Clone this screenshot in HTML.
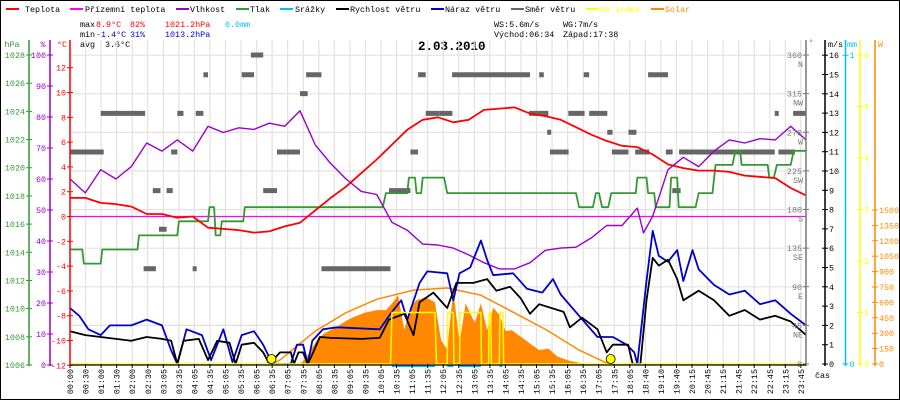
<!DOCTYPE html>
<html><head><meta charset="utf-8"><style>
html,body{margin:0;padding:0;background:#fff}
svg{display:block;font-family:"Liberation Mono",monospace}
</style></head><body>
<svg id="c" width="900" height="400" viewBox="0 0 900 400" xmlns="http://www.w3.org/2000/svg">
<rect x="0.5" y="0.5" width="899" height="399" fill="#fff" stroke="#000"/>
<g id="legend" font-size="8.4">
 <g><rect x="6" y="8" width="13" height="2" fill="#f00"/><text x="25" y="12">Teplota</text></g>
 <g><rect x="70" y="8" width="13" height="2" fill="#f0f"/><text x="85" y="12">Přízemní teplota</text></g>
 <g><rect x="176" y="8" width="13" height="2" fill="#90c"/><text x="190" y="12">Vlhkost</text></g>
 <g><rect x="236" y="8" width="13" height="2" fill="#393"/><text x="250" y="12">Tlak</text></g>
 <g><rect x="280" y="8" width="13" height="2" fill="#0bf"/><text x="295" y="12">Srážky</text></g>
 <g><rect x="336" y="8" width="13" height="2" fill="#000"/><text x="350" y="12">Rychlost větru</text></g>
 <g><rect x="431" y="8" width="13" height="2" fill="#00c"/><text x="445" y="12">Náraz větru</text></g>
 <g><rect x="511" y="8" width="13" height="2" fill="#666"/><text x="525" y="12">Směr větru</text></g>
 <g><rect x="586" y="8" width="13" height="2" fill="#ff0"/><text x="600" y="12" fill="#ff0">UV index</text></g>
 <g><rect x="651" y="8" width="13" height="2" fill="#f80"/><text x="665" y="12" fill="#f80">Solar</text></g>
</g>
<g font-size="8.4">
 <text x="80" y="27">max</text><text x="96" y="27" fill="#f00">8.9°C</text><text x="130" y="27" fill="#f00">82%</text><text x="165" y="27" fill="#f00">1021.2hPa</text><text x="225" y="27" fill="#0bf">0.0mm</text>
 <text x="80" y="37">min</text><text x="96" y="37" fill="#00c">-1.4°C</text><text x="130" y="37" fill="#00c">31%</text><text x="165" y="37" fill="#00c">1013.2hPa</text>
 <text x="80" y="47">avg</text><text x="105" y="47">3.6°C</text>
 <text x="494" y="27">WS:5.6m/s</text><text x="563" y="27">WG:7m/s</text>
 <text x="494" y="37">Východ:06:34</text><text x="563" y="37">Západ:17:38</text>
</g>
<text x="418" y="50" font-size="12.5" font-weight="bold">2.03.2010</text>
<g id="grid"></g>
<g id="marks"></g>
<g id="axes" font-size="8.4"></g>
</svg>
<script>
const NS='http://www.w3.org/2000/svg';
// ---------- data ----------
const xLabels=['00:00','00:30','01:00','01:30','02:00','02:30','03:05','03:35','04:05','04:35','05:05','05:35','06:05','06:35','07:05','07:35','08:05','08:35','09:05','09:35','10:05','10:35','11:05','11:35','12:05','12:35','13:05','13:35','14:05','14:35','15:05','15:35','16:05','16:35','17:05','17:35','18:05','18:40','19:10','19:40','20:15','20:45','21:15','21:45','22:15','22:45','23:15','23:45'];
const tempHours=[0,0.5,1,1.5,2,2.5,3,3.5,4,4.5,5,5.5,6,6.5,7,7.5,8,8.5,9,9.5,10,10.5,11,11.5,12,12.5,13,13.5,14,14.5,15,15.5,16,16.5,17,17.5,18,18.5,19,19.5,20,20.5,21,21.5,22,22.5,23,23.5,24];
const tempVals=[1.5,1.5,1.1,1.0,0.8,0.2,0.2,-0.1,0,-0.9,-1.0,-1.1,-1.3,-1.2,-0.8,-0.5,0.5,1.5,2.4,3.5,4.6,5.8,7.0,7.8,8.0,7.6,7.8,8.6,8.7,8.8,8.3,8.1,7.8,7.2,6.6,6.1,5.7,5.6,5.0,4.2,3.9,3.7,3.7,3.6,3.3,3.2,3.1,2.3,1.7];
const chillHours=[0,24];
const chillVals=[0,0];
const humHours=[0,0.5,1,1.5,2,2.5,3,3.5,4,4.5,5,5.5,6,6.5,7,7.5,8,8.5,9,9.5,10,10.5,11,11.5,12,12.5,13,13.5,14,14.5,15,15.5,16,16.5,17,17.5,18,18.5,18.7,19,19.5,20,20.5,21,21.5,22,22.5,23,23.5,24];
const humVals=[60,55.5,63,60,64,71.6,69,72.6,69,77,75,76.5,76,78,77,82,71,65,60,56,55,46,43.5,39,38.7,37.7,35.5,33,31,31,33,37,37.7,38,41,45,45,50.6,42.6,48,63,67,64,69,72.6,71.6,73,72.6,77,72.6];
const presHours=[0,0.4,0.45,1.0,1.05,2.2,2.25,3.5,3.55,4.5,4.55,4.7,4.75,4.9,4.95,5.65,5.7,10.2,10.3,11.0,11.05,11.25,11.3,11.45,11.5,12.2,12.3,16.5,16.6,17.05,17.15,17.25,17.35,17.55,17.65,18.45,18.5,18.8,18.85,19.05,19.1,19.55,19.6,19.8,19.85,20.4,20.5,20.95,21.05,21.6,21.7,21.85,21.9,22.75,22.8,22.95,23.05,23.5,23.6,24];
const presVals=[1014.2,1014.2,1013.2,1013.2,1014.2,1014.2,1015.2,1015.2,1016.2,1016.2,1017.2,1017.2,1015.2,1015.2,1016.2,1016.2,1017.2,1017.2,1018.2,1018.2,1019.3,1019.3,1018.2,1018.2,1019.3,1019.3,1018.2,1018.2,1017.2,1017.2,1018.2,1018.2,1017.2,1017.2,1018.2,1018.2,1019.3,1019.3,1018.2,1018.2,1017.2,1017.2,1019.3,1019.3,1017.2,1017.2,1018.2,1018.2,1020.2,1020.2,1021.2,1021.2,1020.2,1020.2,1019.3,1019.3,1020.2,1020.2,1021.2,1021.2];
const windHours=[0,0.5,1,1.5,2,2.5,3,3.3,3.5,3.7,4.2,4.5,4.8,5.2,5.4,5.6,6.0,6.3,6.5,6.85,7.2,7.3,7.45,7.6,7.75,7.9,8.15,8.5,9.5,10.1,10.4,10.9,11.2,11.4,11.85,12.3,12.6,13.15,13.6,13.9,14.35,14.7,15.0,15.3,16.1,16.3,16.7,17.2,17.5,17.7,18.2,18.35,18.6,18.8,19.0,19.2,19.5,19.8,20,20.5,21,21.5,22,22.5,23,23.5,24];
const windVals=[1.7,1.5,1.4,1.3,1.2,1.4,1.3,1.2,0,1.2,1.3,0.2,1.2,1.1,0,1.0,1.1,0.6,0,0.6,0.6,0,0.6,0.6,0,0.5,1.4,1.35,1.3,1.35,2.3,2.6,1.5,3.2,3.7,2.9,4.2,4.2,4.4,3.8,4.0,3.4,2.6,3.1,2.7,1.9,2.4,1.8,0.6,1.0,1.0,0,0,3.3,5.5,5.1,5.4,4.4,3.3,3.8,3.3,2.5,2.8,2.3,2.5,2.2,1.5];
const gustHours=[0,0.3,0.6,1,1.3,2,2.5,3,3.3,3.5,3.8,4.3,4.6,5,5.3,5.6,6,6.3,6.6,7.2,7.4,7.6,7.75,7.9,8.25,8.7,10.1,10.45,10.8,11.0,11.4,11.65,12.3,12.5,12.7,13.05,13.4,13.6,13.8,14.45,14.9,15.4,15.75,16.0,16.6,17.2,17.7,18.15,18.4,18.5,18.8,19.0,19.2,19.5,19.8,20,20.3,20.5,21,21.5,22,22.5,23,23.5,24];
const gustVals=[2.9,2.5,1.8,1.5,2.0,2.0,2.3,2.0,0.7,0,1.8,1.5,0.2,1.8,0.1,1.5,1.7,1.0,0,0,1.0,1.0,0,1.2,1.8,1.9,1.8,2.6,3.3,2.3,4.2,4.8,4.7,3.3,4.7,5.0,6.4,5.4,4.6,4.7,3.9,3.7,4.4,3.6,2.5,1.4,1.4,1.0,0.6,0,4.3,6.9,5.6,5.3,5.9,4.3,5.9,4.9,4.1,3.6,3.8,3.1,3.3,2.6,2.0];
const solarHours=[7.5,7.7,7.9,8.1,8.3,8.7,9.0,9.2,9.6,10.0,10.3,10.5,10.7,10.9,11.1,11.3,11.6,11.9,12.1,12.3,12.5,12.7,12.9,13.2,13.4,13.6,13.8,14.0,14.2,14.4,14.7,15.0,15.3,15.6,15.9,16.3,16.8];
const solarVals=[0,60,165,250,300,360,420,450,500,525,525,590,670,330,555,620,650,600,230,143,720,200,590,400,590,330,550,480,320,330,265,200,135,150,70,30,0];
const solarMaxHours=[6.6,6.85,7.5,8.0,9.0,10.0,11.2,12.3,13.4,14.45,15.55,16.6,17.5,17.65];
const solarMaxVals=[0,40,200,320,500,630,720,740,670,505,330,135,10,0];
const uvHours=[0,10.45,10.5,11.9,11.95,12.3,12.32,12.5,12.52,12.7,12.72,13.4,13.42,13.65,13.67,13.72,13.74,14.0,14.02,14.12,14.14,24];
const uvVals=[0,0,1,1,0,0,1,1,0,0,1,1,0,0,1,1,0,0,1,1,0,0];
const dirStart=[0,1.0,2.4,2.7,2.9,3.15,3.3,3.5,4.0,4.1,4.35,5.6,5.9,6.3,6.75,7.5,7.7,8.2,10.4,11.1,11.35,11.6,12.06,12.46,14.97,15.3,15.56,15.65,16.25,16.75,16.93,17.52,17.67,18.21,18.43,18.85,19.43,19.64,19.86,22.98,23.1,23.58];
const dirEnd=[1.1,2.45,2.8,2.95,3.15,3.35,3.5,3.7,4.1,4.35,4.5,6.0,6.3,6.75,7.5,7.75,8.2,10.45,11.1,11.35,11.6,12.06,12.47,15.0,15.6,15.45,15.67,16.26,16.78,16.93,17.52,17.69,18.21,18.47,18.89,19.5,19.65,19.91,22.98,23.1,23.64,24.0];
const dirVals=[247,292,111,202,157,202,247,292,111,292,337,337,360,202,247,315,337,111,202,247,337,292,292,337,292,337,270,247,292,337,292,270,247,270,247,337,247,202,247,292,247,292];
const sunEvents=[6.57,17.63];
const rainStart=[10.5,12.3,12.7,14.0];
const rainEnd=[11.9,12.5,13.4,14.1];

// ---------- scales ----------
const X=h=>70+h*(736/24);
const yT=t=>216.5-t*12.4;
const yH=p=>365-p*3.1;
const yP=p=>365-(p-1006)*14.09;
const yW=v=>364-v*19.3;
const yD=d=>364-d*0.8583;
const yUV=u=>364-u*51.5;
const yS=w=>364-w*0.10267;

function el(tag,attrs,parent){const e=document.createElementNS(NS,tag);for(const k in attrs)e.setAttribute(k,attrs[k]);parent.appendChild(e);return e;}
const grid=document.getElementById('grid'),marks=document.getElementById('marks'),axes=document.getElementById('axes');

for(let i=0;i<xLabels.length;i++){const x=70+i*15.55;
 const g=el('line',{x1:x,x2:x,y1:40,y2:364,stroke:'#e6e0e0','stroke-width':1.2},grid);
 
 
 const t=el('text',{x:0,y:0,'font-size':8.4,'text-anchor':'end',transform:`translate(${x+3},369) rotate(-90)`},axes);
 t.textContent=xLabels[i];
 
 
 const tk=el('line',{x1:x,x2:x,y1:364,y2:368,stroke:'#000'},axes);
 
 
}
for(let v=2;v<=16;v+=2){const y=yW(v);
 const g=el('line',{x1:70,x2:806,y1:y,y2:y,stroke:'#e6e0e0','stroke-width':1.2},grid);
 
 
}

function path(hs,vs,fx,fy){return hs.map((h,i)=>(i?'L':'M')+fx(h).toFixed(1)+' '+fy(vs[i]).toFixed(1)).join(' ');}

const sp=el('path',{d:path(solarHours,solarVals,X,yS)+' Z',fill:'#f80',stroke:'none'},marks);


const sm=el('path',{d:path(solarMaxHours,solarMaxVals,X,yS),fill:'none',stroke:'#f80','stroke-width':1.5},marks);


for(let i=0;i<dirVals.length;i++){
 const r=el('rect',{x:X(dirStart[i]),y:yD(dirVals[i])-2.5,width:Math.max(4,X(dirEnd[i])-X(dirStart[i])),height:5,fill:'#666'},marks);
 
 
}
const lines=[
 [chillHours,chillVals,yT,'#f0f',1.2,'wind-chill-line'],
 [presHours,presVals,yP,'#393',1.8,'pressure-line'],
 [humHours,humVals,yH,'#90c',1.4,'humidity-line'],
 [tempHours,tempVals,yT,'#f00',1.8,'temperature-line'],
 [gustHours,gustVals,yW,'#00c',1.8,'wind-gust-line'],
 [windHours,windVals,yW,'#000',1.8,'wind-speed-line'],
 [uvHours,uvVals,yUV,'#ff0',1.5,'uv-index-line']];
for(const L of lines){
 const p=el('path',{d:path(L[0],L[1],X,L[2]),fill:'none',stroke:L[3],'stroke-width':L[4],'stroke-linejoin':'round'},marks);
 
 
}
for(let i=0;i<rainStart.length;i++){
 const r=el('line',{x1:X(rainStart[i]),x2:X(rainEnd[i]),y1:366,y2:366,stroke:'#0bf','stroke-width':2},marks);
 
 
}
for(const s of sunEvents){
 const c=el('circle',{cx:X(s),cy:359,r:4.5,fill:'#ff0',stroke:'#000','stroke-width':0.8},marks);
 
 
}

function vAxis(x,color,name,y1,y2){const a=el('line',{x1:x,x2:x,y1:y1,y2:y2,stroke:color,'stroke-width':1.5},axes);
 
 }
function tick(x,y,color,label,side,dx){
 const t=el('line',{x1:x-3,x2:x+3,y1:y,y2:y,stroke:color},axes);
 
 
 const tx=el('text',{x:side<0?x-(dx||4):x+(dx||4),y:y+3,fill:color,'text-anchor':side<0?'end':'start'},axes);
 tx.textContent=label;
 
 
}
function unit(x,y,color,txt,anchor){const t=el('text',{x:x,y:y,fill:color,'text-anchor':anchor||'middle'},axes);t.textContent=txt;
 
 }
vAxis(29,'#393','pressure-axis',40,366);unit(12,47,'#393','hPa');
for(let p=1006;p<=1028;p+=2)tick(29,yP(p),'#393',String(p),-1);
vAxis(50,'#90c','humidity-axis',40,366);unit(43,47,'#90c','%');
for(let p=0;p<=100;p+=10)tick(50,yH(p),'#90c',String(p),-1);
vAxis(70,'#f00','temperature-axis',40,366);unit(62,47,'#f00','°C');
for(let t=-12;t<=12;t+=2)tick(70,yT(t),'#f00',String(t),-1);
vAxis(806,'#777','wind-direction-axis',40,366);unit(811,45,'#777','°');
const dirTicks=[0,45,90,135,180,225,270,315,360],comp=['','NE','E','SE','S','SW','W','NW','N'];
dirTicks.forEach((d,i)=>{const y=yD(d);tick(806,y,'#777',String(d),-1);
 if(comp[i]){const c=el('text',{x:803,y:y+12,fill:'#777','text-anchor':'end'},axes);c.textContent=comp[i];
 
 }});
vAxis(825,'#000','wind-speed-axis',40,366);unit(828,47,'#000','m/s','start');
for(let v=0;v<=16;v++)tick(825,yW(v),'#000',String(v),1);
vAxis(845.5,'#0bf','rain-axis',40,366);unit(847,47,'#0bf','mm','start');
tick(845.5,yW(16),'#0bf','1',1);tick(845.5,364,'#0bf','0',1);
vAxis(860,'#ff0','uv-axis',40,366);
for(let u=0;u<=6;u++)tick(860,yUV(u),'#ff0',String(u),1);
vAxis(875,'#f80','solar-axis',40,366);unit(878,47,'#f80','W','start');
for(let w=0;w<=1500;w+=150)tick(875,yS(w),'#f80',String(w),1);
const xa=el('line',{x1:70,x2:806,y1:365,y2:365,stroke:'#000','stroke-width':1.2},axes);


const xu=el('text',{x:815,y:378,fill:'#000'},axes);xu.textContent='čas';


</script>
</body></html>
